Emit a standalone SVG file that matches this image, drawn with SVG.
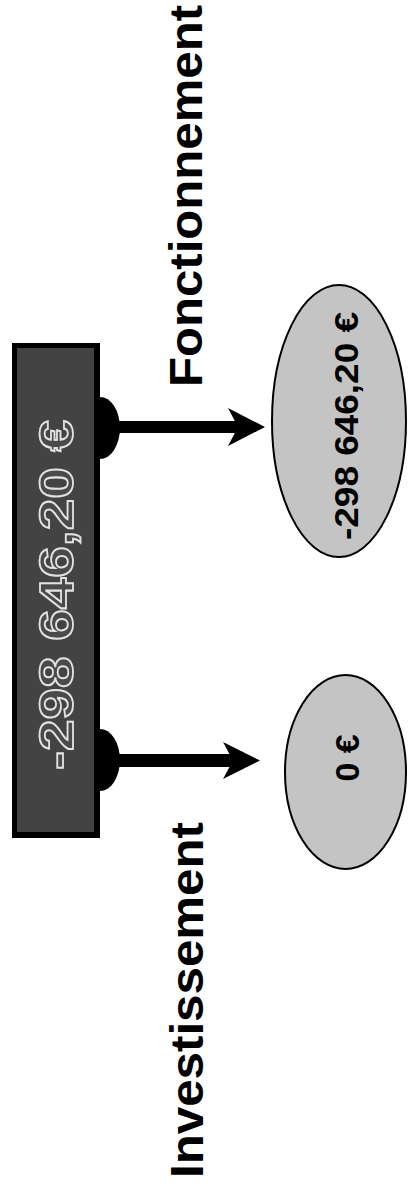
<svg xmlns="http://www.w3.org/2000/svg" width="418" height="1188" viewBox="0 0 418 1188">
<style>
.lbl{font-family:"Liberation Sans",Arial,sans-serif;font-weight:bold;font-size:46px;fill:#000}
.val{font-family:"Liberation Sans",Arial,sans-serif;font-weight:bold;font-size:33px;fill:#000}
.big{font-family:"Liberation Sans",Arial,sans-serif;font-weight:bold;font-size:49px;fill:#4a4a4a;stroke:#e2e2e2;stroke-width:1.8}
.oval{fill:#c4c4c4;stroke:#000;stroke-width:2}
</style>
<rect width="418" height="1188" fill="#fff"/>
<g id="total">
<rect x="12" y="343" width="88" height="495" fill="#000"/>
<rect x="17" y="348" width="77" height="484" fill="#434343"/>
<text class="big" transform="translate(73,595) rotate(-90)" text-anchor="middle" textLength="350" lengthAdjust="spacingAndGlyphs">-298 646,20 €</text>
</g>
<g id="connectors" fill="#000">
<path d="M100,397 A20,31 0 0 1 100,459 Z"/>
<rect x="100" y="421" width="140" height="12"/>
<polygon points="265,427 228,408 238,427 228,446"/>
<path d="M100,729 A20,31 0 0 1 100,791 Z"/>
<rect x="100" y="754" width="135" height="13"/>
<polygon points="260,760.5 223,742 233,760.5 223,779"/>
</g>
<g id="fonctionnement">
<ellipse class="oval" cx="339" cy="421" rx="67" ry="136"/>
<text class="val" transform="translate(358,426) rotate(-90)" text-anchor="middle" textLength="228" lengthAdjust="spacingAndGlyphs">-298 646,20 €</text>
</g>
<g id="investissement">
<ellipse class="oval" cx="345.5" cy="772" rx="60.5" ry="97"/>
<text class="val" transform="translate(359,758) rotate(-90)" text-anchor="middle" textLength="47" lengthAdjust="spacingAndGlyphs">0 €</text>
</g>
<g id="labels">
<text class="lbl" transform="translate(203,1178) rotate(-90)" textLength="356" lengthAdjust="spacingAndGlyphs">Investissement</text>
<text class="lbl" transform="translate(202,387) rotate(-90)" textLength="382" lengthAdjust="spacingAndGlyphs">Fonctionnement</text>
</g>
</svg>
